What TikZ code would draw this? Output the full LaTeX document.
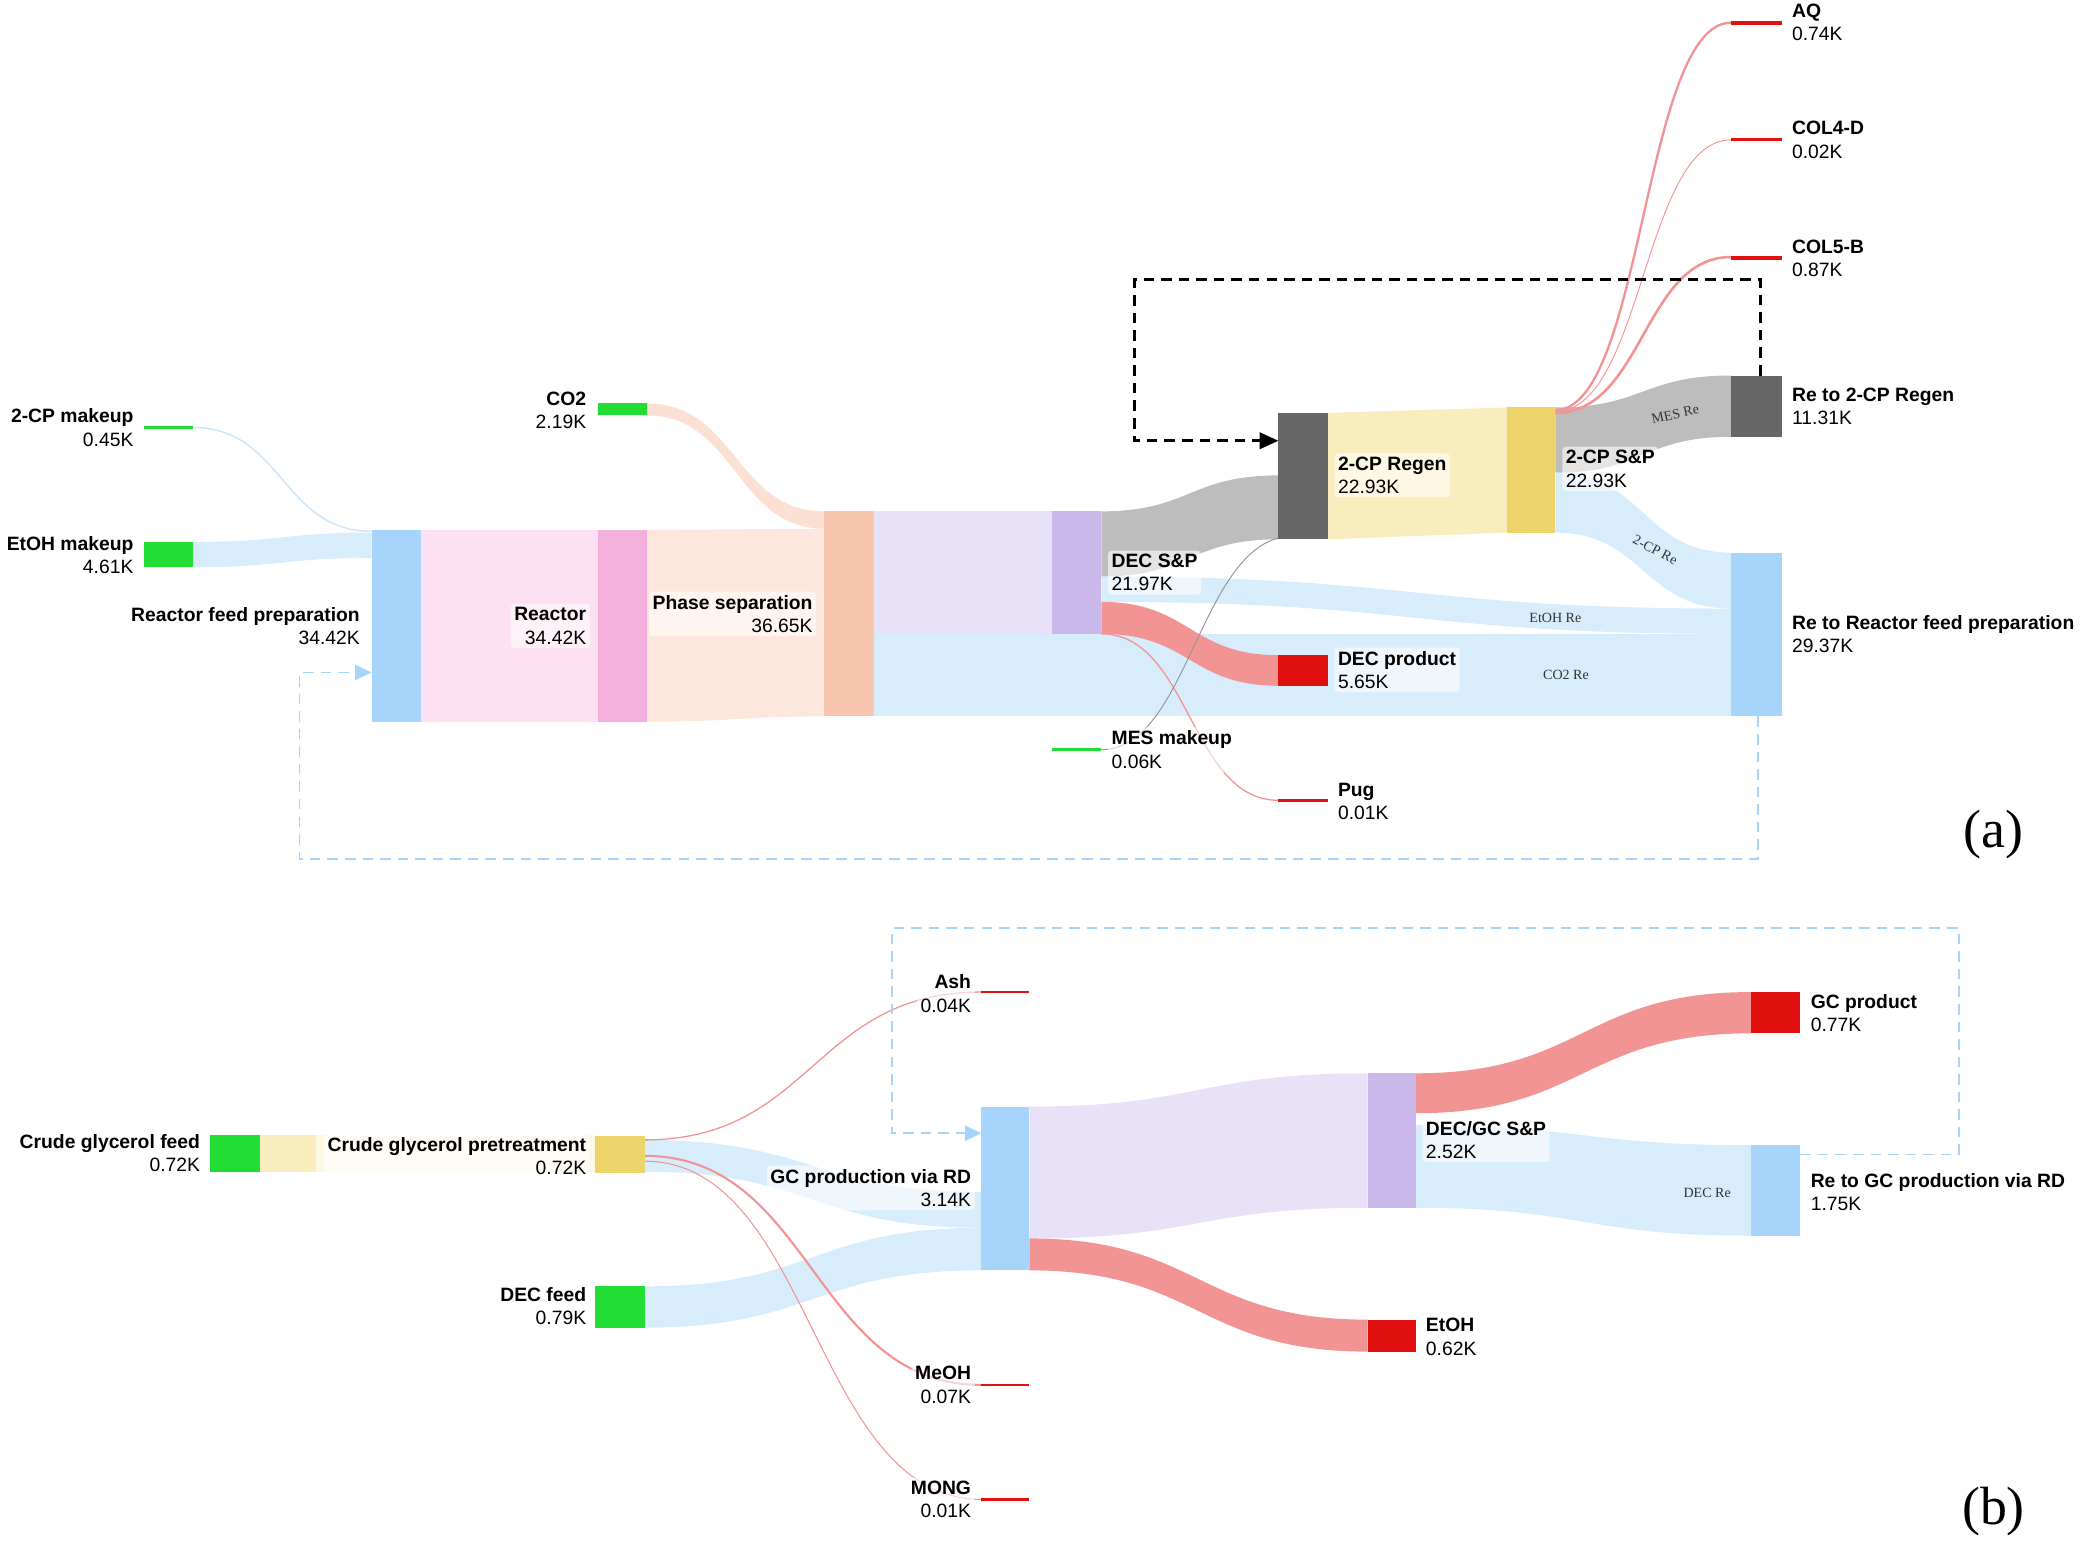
\documentclass[tikz,border=0pt]{standalone}
\usepackage{fontspec}
\setmainfont{Liberation Sans}
\newfontfamily\serifit{Liberation Serif}
\usetikzlibrary{arrows.meta}
\definecolor{srcgreen}{HTML}{22DD33}
\definecolor{sinkred}{HTML}{E01010}
\definecolor{redlink}{HTML}{F29494}
\definecolor{bluenode}{HTML}{A6D4FA}
\definecolor{bluelink}{HTML}{D8EDFC}
\definecolor{graynode}{HTML}{666666}
\definecolor{graylink}{HTML}{BDBDBD}
\definecolor{yelnode}{HTML}{EDD46A}
\definecolor{yellink}{HTML}{FAEDBD}
\definecolor{lavnode}{HTML}{CBB8EA}
\definecolor{lavlink}{HTML}{E9E1F8}
\definecolor{pinknode}{HTML}{F3B0DC}
\definecolor{pinklink}{HTML}{FDE0F2}
\definecolor{peachnode}{HTML}{F9C6B0}
\definecolor{peachlink}{HTML}{FDE7DD}
\tikzset{
  lbl/.style={fill=white, fill opacity=0.6, text opacity=1, rounded corners=3pt,
    inner sep=3pt, font=\fontsize{16.5}{20}\selectfont},
  lr/.style={lbl, anchor=west, align=left},
  ll/.style={lbl, anchor=east, align=right},
  tag/.style={font=\serifit\fontsize{12}{13}\selectfont, text=black!80, inner sep=1pt},
  loop/.style={dashed, line width=2.2pt, dash pattern=on 9pt off 6pt}
}
% block: name, x1, y1, x2, y2, colour
\newcommand{\blk}[6]{\fill[#6] (#2,#3) rectangle (#4,#5);
  \coordinate (#1) at ({(#2+#4)/2},{(#3+#5)/2});}
% band between two vertical edges
\newcommand{\flow}[7]{\pgfmathsetmacro\xm{(#1+#4)/2}
  \fill[#7] (#1,#2) .. controls (\xm,#2) and (\xm,#5) .. (#4,#5) -- (#4,#6)
    .. controls (\xm,#6) and (\xm,#3) .. (#1,#3) -- cycle;}
% thin stream
\newcommand{\wire}[6]{\pgfmathsetmacro\xm{(#1+#3)/2}
  \draw[#5, line width=#6] (#1,#2) .. controls (\xm,#2) and (\xm,#4) .. (#3,#4);}
\begin{document}
\begin{tikzpicture}[x=0.04cm, y=-0.04cm]
\useasboundingbox (0,0) rectangle (1568,1160);

% ---- (a) ----
\flow{145}{407}{426}{279}{400}{419}{bluelink}
\wire{145}{321}{279}{399}{bluelink!70!bluenode}{1.2pt}
\fill[pinklink] (316,398) rectangle (449,542);
\flow{486}{398}{542}{619}{397}{538}{peachlink}
\flow{486}{303}{312}{619}{384}{397}{peachlink!80!peachnode}
\fill[lavlink] (656,384) rectangle (790,476);
\fill[bluelink] (656,476) rectangle (1300,538);
\flow{827}{384}{433}{960}{357}{405}{graylink}
\flow{827}{433}{452}{1300}{457}{476}{bluelink}
\flow{827}{452}{476}{960}{492}{515}{redlink}
\wire{827}{476}{960}{601}{redlink}{1.1pt}
\draw[graynode!70, line width=0.8pt] (827,563) .. controls (890,563) and (900,420) .. (960,404);
\fill[yellink] (997,310) -- (1132,306) -- (1132,400) -- (997,405) -- cycle;
\flow{1168}{306}{355}{1300}{282}{328}{graylink}
\flow{1168}{355}{400}{1300}{415}{457}{bluelink}
\wire{1168}{308}{1300}{17}{redlink}{2pt}
\wire{1168}{309}{1300}{105}{redlink}{0.8pt}
\wire{1168}{310}{1300}{193}{redlink}{2.2pt}

\blk{cpmk}{108}{320}{145}{322}{srcgreen}
\blk{etmk}{108}{407}{145}{426}{srcgreen}
\blk{rfp}{279}{398}{316}{542}{bluenode}
\blk{rct}{449}{398}{486}{542}{pinknode}
\blk{co2}{449}{303}{486}{312}{srcgreen}
\blk{phs}{619}{384}{656}{538}{peachnode}
\blk{decsp}{790}{384}{827}{476}{lavnode}
\blk{mesmk}{790}{562}{827}{564}{srcgreen}
\blk{cpreg}{960}{310}{997}{405}{graynode}
\blk{decp}{960}{492}{997}{515}{sinkred}
\blk{pug}{960}{600}{997}{602}{sinkred}
\blk{cpsp}{1132}{306}{1168}{400}{yelnode}
\blk{aq}{1300}{16}{1338}{19}{sinkred}
\blk{col4}{1300}{104}{1338}{106}{sinkred}
\blk{col5}{1300}{192}{1338}{195}{sinkred}
\blk{recp}{1300}{282}{1338}{328}{graynode}
\blk{rerf}{1300}{415}{1338}{538}{bluenode}

\draw[loop, -{Triangle[length=16pt, width=14pt]}] (1322,282) |- (852,210) |- (960,331);
\draw[loop, bluenode, line width=1.4pt, -{Triangle[length=14pt, width=13pt]}] (1320,538) |- (225,645) |- (279,505);

\node[ll] at (103,321) {\textbf{2-CP makeup}\\0.45K};
\node[ll] at (103,417) {\textbf{EtOH makeup}\\4.61K};
\node[ll] at (273,470) {\textbf{Reactor feed preparation}\\34.42K};
\node[ll] at (443,470) {\textbf{Reactor}\\34.42K};
\node[ll] at (613,461) {\textbf{Phase separation}\\36.65K};
\node[ll] at (443,308) {\textbf{CO2}\\2.19K};
\node[lr] at (832,430) {\textbf{DEC S\&P}\\21.97K};
\node[lr] at (1002,357) {\textbf{2-CP Regen}\\22.93K};
\node[lr] at (1173,352) {\textbf{2-CP S\&P}\\22.93K};
\node[lr] at (1343,17) {\textbf{AQ}\\0.74K};
\node[lr] at (1343,105) {\textbf{COL4-D}\\0.02K};
\node[lr] at (1343,194) {\textbf{COL5-B}\\0.87K};
\node[lr] at (1343,305) {\textbf{Re to 2-CP Regen}\\11.31K};
\node[lr] at (1343,476) {\textbf{Re to Reactor feed preparation}\\29.37K};
\node[lr] at (1002,503) {\textbf{DEC product}\\5.65K};
\node[lr] at (832,563) {\textbf{MES makeup}\\0.06K};
\node[lr] at (1002,602) {\textbf{Pug}\\0.01K};
\node[tag, rotate=12] at (1258,311) {MES Re};
\node[tag, rotate=-28] at (1243,413) {2-CP Re};
\node[tag] at (1168,464) {EtOH Re};
\node[tag] at (1176,507) {CO2 Re};
\node[font=\serifit\fontsize{46}{48}\selectfont] at (1497,627) {(a)};

% ---- (b) ----
\fill[yellink] (195,852) rectangle (447,880);
\fill[yellink!40] (237,852) rectangle (447,880);
\flow{484}{856}{880}{737}{895}{922}{bluelink}
\flow{484}{966}{997}{737}{922}{954}{bluelink}
\wire{484}{856}{737}{745}{redlink}{1.1pt}
\wire{484}{868}{737}{1040}{redlink}{1.8pt}
\wire{484}{872}{737}{1126}{redlink}{0.9pt}
\flow{773}{831}{930}{1027}{806}{907}{lavlink}
\flow{773}{930}{954}{1027}{991}{1015}{redlink}
\flow{1063}{806}{836}{1315}{745}{776}{redlink}
\flow{1063}{845}{907}{1315}{860}{928}{bluelink}

\blk{cgf}{158}{852}{195}{880}{srcgreen}
\blk{cgp}{447}{853}{484}{881}{yelnode}
\blk{decf}{447}{966}{484}{997}{srcgreen}
\blk{gcrd}{737}{831}{773}{954}{bluenode}
\blk{ash}{737}{744}{773}{746}{sinkred}
\blk{meoh}{737}{1039}{773}{1041}{sinkred}
\blk{mong}{737}{1125}{773}{1127}{sinkred}
\blk{dgsp}{1027}{806}{1063}{907}{lavnode}
\blk{etoh}{1027}{991}{1063}{1015}{sinkred}
\blk{gcp}{1315}{745}{1352}{776}{sinkred}
\blk{regc}{1315}{860}{1352}{928}{bluenode}

\draw[loop, bluenode, line width=1.4pt, -{Triangle[length=14pt, width=13pt]}] (1352,867) -| (1471,697) -| (670,851) -- (737,851);

\node[ll] at (153,866) {\textbf{Crude glycerol feed}\\0.72K};
\node[ll] at (443,868) {\textbf{Crude glycerol pretreatment}\\0.72K};
\node[ll] at (732,746) {\textbf{Ash}\\0.04K};
\node[ll] at (732,892) {\textbf{GC production via RD}\\3.14K};
\node[ll] at (443,981) {\textbf{DEC feed}\\0.79K};
\node[ll] at (732,1040) {\textbf{MeOH}\\0.07K};
\node[ll] at (732,1126) {\textbf{MONG}\\0.01K};
\node[lr] at (1068,856) {\textbf{DEC/GC S\&P}\\2.52K};
\node[lr] at (1357,761) {\textbf{GC product}\\0.77K};
\node[lr] at (1357,895) {\textbf{Re to GC production via RD}\\1.75K};
\node[lr] at (1068,1004) {\textbf{EtOH}\\0.62K};
\node[tag] at (1282,896) {DEC Re};
\node[font=\serifit\fontsize{46}{48}\selectfont] at (1497,1135) {(b)};
\end{tikzpicture}
\end{document}
